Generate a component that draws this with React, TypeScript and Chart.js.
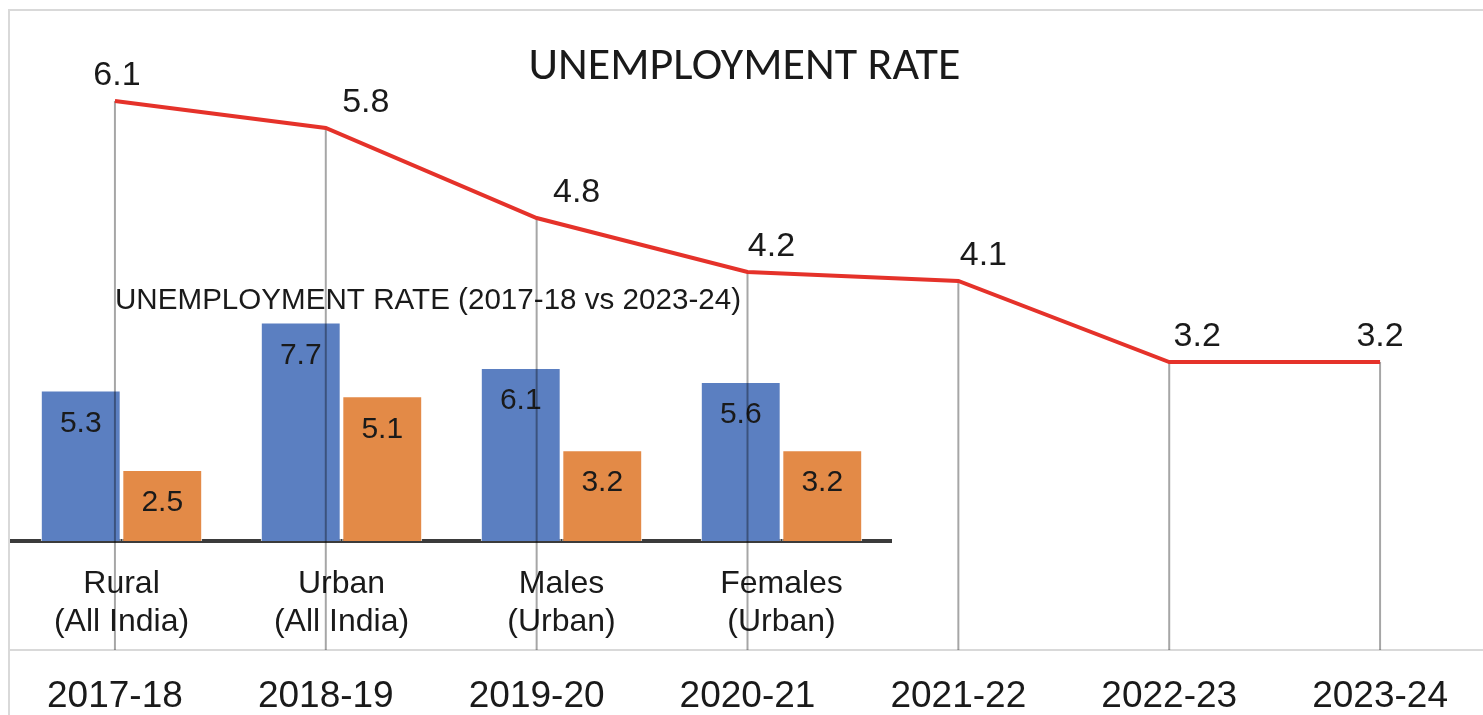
import { useEffect, useRef } from "react";
import { Chart, registerables } from "chart.js";

Chart.register(...registerables);

// ---- data ----
const years = ["2017-18", "2018-19", "2019-20", "2020-21", "2021-22", "2022-23", "2023-24"];
const rateByYear = [6.1, 5.8, 4.8, 4.2, 4.1, 3.2, 3.2];

const groupLabels = [
  ["Rural", "(All India)"],
  ["Urban", "(All India)"],
  ["Males", "(Urban)"],
  ["Females", "(Urban)"],
];
const rate201718 = [5.3, 7.7, 6.1, 5.6];
const rate202324 = [2.5, 5.1, 3.2, 3.2];

const mainTitle = "UNEMPLOYMENT RATE";
const insetTitle = "UNEMPLOYMENT RATE (2017-18 vs 2023-24)";

// ---- styling ----
const ARIAL = "'Liberation Sans', Arial, sans-serif";
const TEXT = "#1a1a1a";
const labelShiftX = [2, 40, 40, 24, 25, 28, 0];
const labelShiftY = -25;

export default function App() {
  const mainRef = useRef<HTMLCanvasElement | null>(null);
  const insetRef = useRef<HTMLCanvasElement | null>(null);

  useEffect(() => {
    if (!mainRef.current || !insetRef.current) return;

    const dropLines = {
      id: "dropLines",
      beforeDatasetsDraw(chart: any) {
        const { ctx } = chart;
        const meta = chart.getDatasetMeta(0);
        const y0 = chart.scales.y.getPixelForValue(0);
        ctx.save();
        ctx.strokeStyle = "rgba(0,0,0,0.35)";
        ctx.lineWidth = 2;
        meta.data.forEach((pt: any) => {
          ctx.beginPath();
          ctx.moveTo(pt.x, pt.y);
          ctx.lineTo(pt.x, y0);
          ctx.stroke();
        });
        ctx.restore();
      },
    };

    const pointLabels = {
      id: "pointLabels",
      afterDatasetsDraw(chart: any) {
        const { ctx } = chart;
        const meta = chart.getDatasetMeta(0);
        const ds = chart.data.datasets[0];
        ctx.save();
        ctx.font = `34px ${ARIAL}`;
        ctx.fillStyle = TEXT;
        ctx.textAlign = "center";
        ctx.textBaseline = "middle";
        meta.data.forEach((pt: any, i: number) => {
          ctx.fillText(Number(ds.data[i]).toFixed(1), pt.x + labelShiftX[i], pt.y + labelShiftY);
        });
        ctx.restore();
      },
    };

    const chartTitle = {
      id: "chartTitle",
      afterDraw(chart: any) {
        const { ctx, chartArea } = chart;
        ctx.save();
        ctx.font = "46px Carlito, Lato, sans-serif";
        ctx.fillStyle = TEXT;
        ctx.textAlign = "center";
        ctx.textBaseline = "middle";
        ctx.fillText(mainTitle, (chartArea.left + chartArea.right) / 2 - 3, chartArea.top + 47);
        ctx.restore();
      },
    };

    const main = new Chart(mainRef.current, {
      type: "line",
      data: {
        labels: years,
        datasets: [
          {
            data: rateByYear,
            borderColor: "#e5322a",
            borderWidth: 4,
            pointRadius: 0,
            tension: 0,
            fill: false,
            clip: false as any,
          },
        ],
      },
      options: {
        animation: false,
        responsive: true,
        maintainAspectRatio: false,
        layout: { padding: { left: 9.5, right: 14.5, top: 20, bottom: 0 } },
        plugins: {
          legend: { display: false },
          title: { display: false },
          tooltip: { enabled: false },
        },
        scales: {
          x: {
            offset: true,
            grid: { display: false, drawTicks: false },
            border: { display: true, color: "#d9d9d9", width: 2 },
            ticks: {
              font: { family: ARIAL, size: 37 },
              color: TEXT,
              padding: 25,
              maxRotation: 0,
              autoSkip: false,
            },
            afterFit: (s: any) => {
              s.height = 65;
            },
          },
          y: { display: false, min: 0, max: 7 },
        },
      },
      plugins: [dropLines, pointLabels, chartTitle],
    });

    const barValueLabels = {
      id: "barValueLabels",
      afterDatasetsDraw(chart: any) {
        const { ctx } = chart;
        ctx.save();
        ctx.font = `30px ${ARIAL}`;
        ctx.fillStyle = TEXT;
        ctx.textAlign = "center";
        ctx.textBaseline = "middle";
        chart.data.datasets.forEach((ds: any, i: number) => {
          const meta = chart.getDatasetMeta(i);
          meta.data.forEach((bar: any, j: number) => {
            ctx.fillText(Number(ds.data[j]).toFixed(1), bar.x, bar.y + 33);
          });
        });
        ctx.restore();
      },
    };

    const insetTitlePlugin = {
      id: "insetTitle",
      afterDraw(chart: any) {
        const { ctx, chartArea } = chart;
        ctx.save();
        ctx.font = `29.6px ${ARIAL}`;
        ctx.fillStyle = TEXT;
        ctx.textAlign = "left";
        ctx.textBaseline = "middle";
        ctx.fillText(insetTitle, chartArea.left + 103.5, chartArea.top - 13);
        ctx.restore();
      },
    };

    const inset = new Chart(insetRef.current, {
      type: "bar",
      data: {
        labels: groupLabels,
        datasets: [
          {
            data: rate201718,
            backgroundColor: "#5b7fc1",
            borderColor: "#ffffff",
            borderWidth: 1,
            categoryPercentage: 0.741,
            barPercentage: 0.98,
          },
          {
            data: rate202324,
            backgroundColor: "#e38a47",
            borderColor: "#ffffff",
            borderWidth: 1,
            categoryPercentage: 0.741,
            barPercentage: 0.98,
          },
        ],
      },
      options: {
        animation: false,
        responsive: true,
        maintainAspectRatio: false,
        layout: { padding: { left: 11.5, right: 8.5, top: 34, bottom: 0 } },
        plugins: {
          legend: { display: false },
          title: { display: false },
          tooltip: { enabled: false },
        },
        scales: {
          x: {
            grid: { display: false, drawTicks: false },
            border: { display: true, color: "#3b3b3b", width: 4 },
            ticks: {
              font: { family: ARIAL, size: 32 },
              color: TEXT,
              padding: 24,
              maxRotation: 0,
              autoSkip: false,
            },
            afterFit: (s: any) => {
              s.height = 119;
            },
          },
          y: { display: false, min: 0, max: 8 },
        },
      },
      plugins: [barValueLabels, insetTitlePlugin],
    });

    return () => {
      main.destroy();
      inset.destroy();
    };
  }, []);

  return (
    <div
      style={{
        position: "fixed",
        left: 0,
        top: 0,
        width: 1483,
        height: 715,
        overflow: "hidden",
        background: "#ffffff",
      }}
    >
      <div
        style={{
          position: "absolute",
          left: 8,
          top: 9,
          width: 1600,
          height: 800,
          border: "2px solid #d9d9d9",
          boxSizing: "border-box",
        }}
      />
      <div style={{ position: "absolute", left: 0, top: 280, width: 900, height: 380 }}>
        <canvas ref={insetRef} />
      </div>
      <div style={{ position: "absolute", left: 0, top: 0, width: 1500, height: 715 }}>
        <canvas ref={mainRef} />
      </div>
    </div>
  );
}
